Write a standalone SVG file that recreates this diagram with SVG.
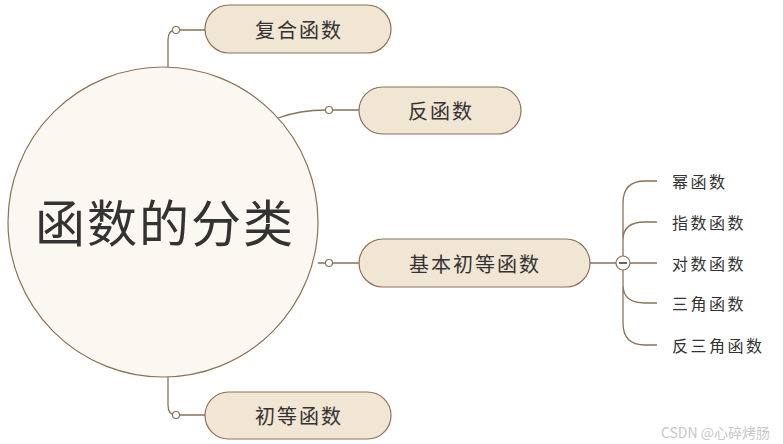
<svg xmlns="http://www.w3.org/2000/svg" width="783" height="444" viewBox="0 0 783 444">
<style>
.conn{fill:none;stroke:#8b7257;stroke-width:1.3}
.dot{fill:#fff;stroke:#8b7257;stroke-width:1.2}
.node{fill:#f1e5d4;stroke:#8b7257;stroke-width:1.2}
.lbl{font-family:"Noto Sans CJK SC","Noto Sans",sans-serif;fill:#333;font-size:20px;letter-spacing:2px;text-anchor:middle;dominant-baseline:central}
.leaf{font-family:"Noto Sans CJK SC","Noto Sans",sans-serif;fill:#333;font-size:16px;letter-spacing:2.5px;dominant-baseline:central}
</style>
<rect width="783" height="444" fill="#fff"/>
<g id="connectors">
<path class="conn" d="M168,68 V40 Q168,30 176,30 M179.5,30 H205"/>
<path class="conn" d="M278,118 Q300,110 325.5,110 M332.5,110 H359"/>
<path class="conn" d="M318,263 H325.5 M332.5,263 H359"/>
<path class="conn" d="M168,377 V405 Q168,415 176,415 M179.5,415 H205"/>
<path class="conn" d="M590,263 H616 M630,263 H657"/>
<path class="conn" d="M657,181 H645 Q623,181 623,203 V256 M657,222 H645 Q623,222 623,240 M623,270 V323 Q623,345 645,345 H657 M657,303 H645 Q623,303 623,285"/>
</g>
<g id="root">
<circle cx="163" cy="222" r="155" fill="#fbf8f2" stroke="#8b7257" stroke-width="1.2"/>
<text x="165" y="220" class="lbl" style="font-size:50px;letter-spacing:2px">函数的分类</text>
</g>
<g id="dots">
<circle class="dot" cx="176" cy="30" r="3.5"/>
<circle class="dot" cx="329" cy="110" r="3.5"/>
<circle class="dot" cx="329" cy="263" r="3.5"/>
<circle class="dot" cx="176" cy="415" r="3.5"/>
</g>
<g id="n1"><rect class="node" x="205" y="5" width="186" height="48" rx="24"/><text class="lbl" x="299" y="29">复合函数</text></g>
<g id="n2"><rect class="node" x="359" y="87" width="162" height="47" rx="23.5"/><text class="lbl" x="441" y="110">反函数</text></g>
<g id="n3"><rect class="node" x="359" y="239" width="231" height="48" rx="24"/><text class="lbl" x="475" y="263">基本初等函数</text></g>
<g id="n4"><rect class="node" x="205" y="392" width="186" height="47" rx="23.5"/><text class="lbl" x="299" y="415">初等函数</text></g>
<g id="collapse"><circle cx="623" cy="263" r="7" fill="#fff" stroke="#8b7257" stroke-width="1.2"/><line x1="619" y1="263" x2="627" y2="263" stroke="#333" stroke-width="1.5"/></g>
<g id="l1"><text class="leaf" x="672" y="181">幂函数</text></g>
<g id="l2"><text class="leaf" x="672" y="222">指数函数</text></g>
<g id="l3"><text class="leaf" x="672" y="263">对数函数</text></g>
<g id="l4"><text class="leaf" x="672" y="303">三角函数</text></g>
<g id="l5"><text class="leaf" x="672" y="345">反三角函数</text></g>
<text x="770" y="432" text-anchor="end" font-family="Noto Sans CJK SC,sans-serif" font-size="14" fill="#c8c8c8" dominant-baseline="central">CSDN @心碎烤肠</text>
</svg>
